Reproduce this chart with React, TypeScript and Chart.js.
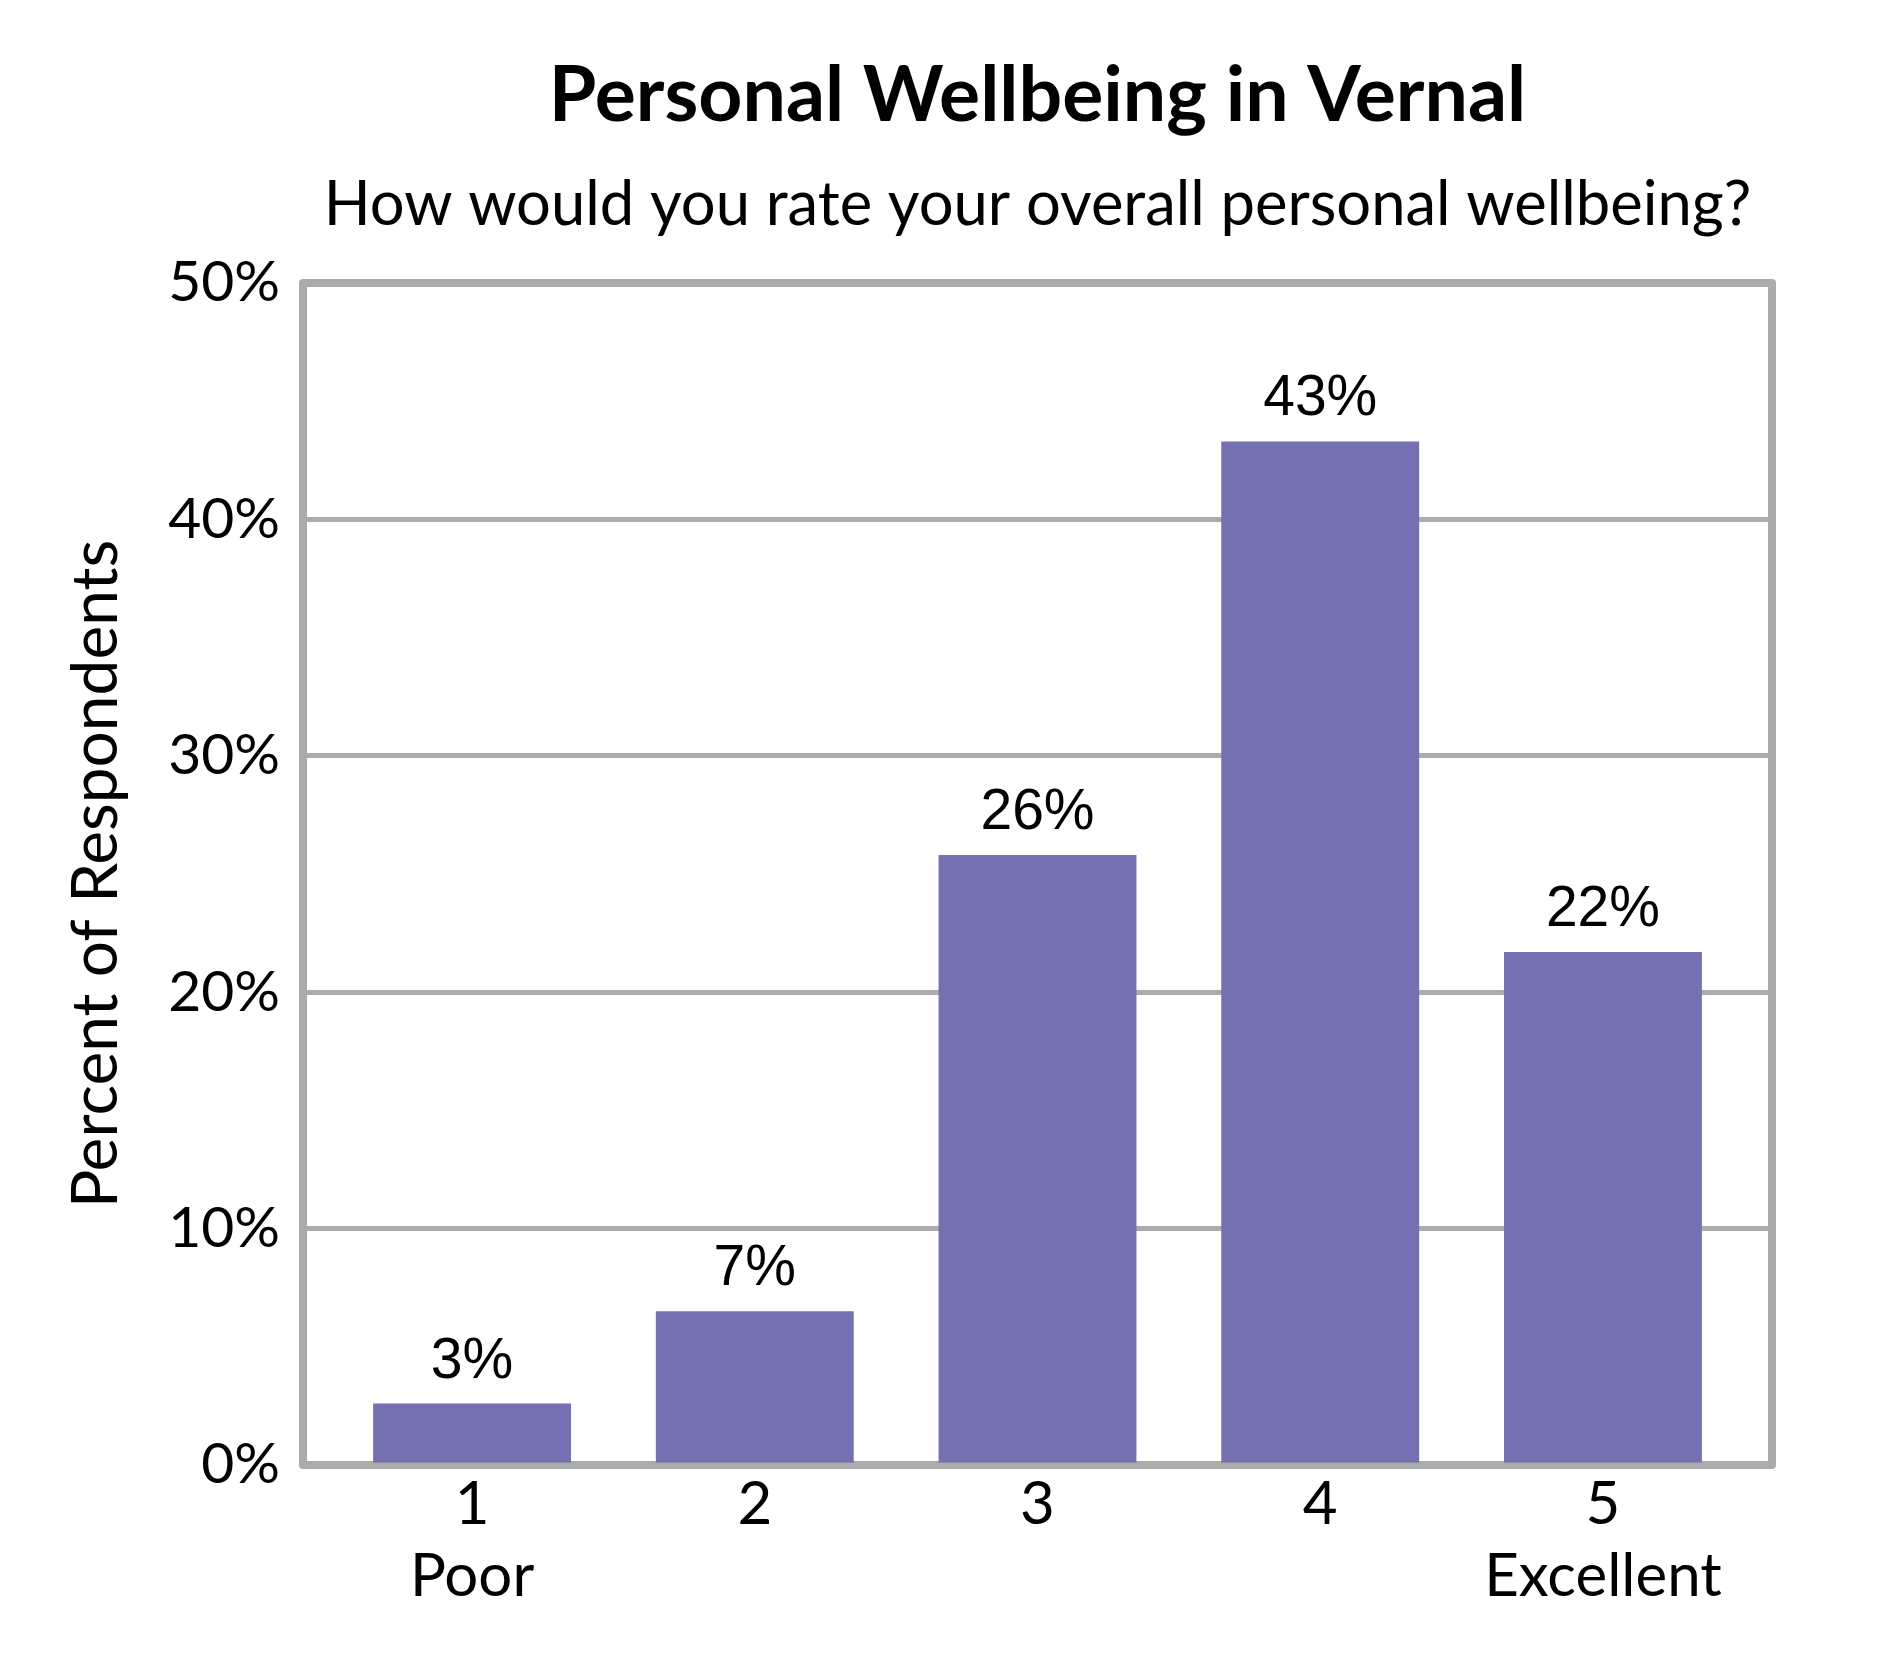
import React, { useEffect, useRef } from "react";
import { Chart, registerables } from "chart.js";

Chart.register(...registerables);

const TITLE = "Personal Wellbeing in Vernal";
const SUBTITLE = "How would you rate your overall personal wellbeing?";
const Y_TITLE = "Percent of Respondents";

const ratings = [1, 2, 3, 4, 5];
const ratingNames = ["Poor", "", "", "", "Excellent"];
const percents = [2.6, 6.5, 25.8, 43.3, 21.7];
const yTicks = [0, 10, 20, 30, 40, 50];

const BAR_COLOR = "#7571B0";
const LINE_COLOR = "#ABABAB";
const SANS = "Lato, 'Open Sans', sans-serif";

const framePlugin = {
  id: "frame",
  beforeDatasetsDraw(chart: any) {
    const { ctx, chartArea } = chart;
    ctx.save();
    ctx.strokeStyle = LINE_COLOR;
    ctx.lineWidth = 8;
    ctx.lineJoin = "round";
    ctx.strokeRect(
      chartArea.left,
      chartArea.top,
      chartArea.right - chartArea.left,
      chartArea.bottom - chartArea.top
    );
    ctx.restore();
  },
};

const valueLabelPlugin = {
  id: "valueLabels",
  afterDatasetsDraw(chart: any) {
    const { ctx } = chart;
    const meta = chart.getDatasetMeta(0);
    ctx.save();
    ctx.fillStyle = "#000000";
    ctx.font = "57px 'Liberation Sans', Arial, sans-serif";
    ctx.textAlign = "center";
    ctx.textBaseline = "alphabetic";
    meta.data.forEach((bar: any, i: number) => {
      ctx.fillText(Math.round(percents[i]) + "%", bar.x, bar.y - 26);
    });
    ctx.restore();
  },
};

export default function App() {
  const canvasRef = useRef<HTMLCanvasElement | null>(null);

  useEffect(() => {
    document.body.style.margin = "0";
    const canvas = canvasRef.current;
    if (!canvas) return;
    const chart = new Chart(canvas, {
      type: "bar",
      data: {
        datasets: [
          {
            data: ratings.map((r, i) => ({ x: r, y: percents[i] })),
            backgroundColor: BAR_COLOR,
            borderWidth: 0,
            barPercentage: 0.7,
            categoryPercentage: 1.0,
          },
        ],
      },
      options: {
        responsive: false,
        devicePixelRatio: 1,
        animation: false,
        layout: { padding: { left: 0, right: 118, top: 0, bottom: 0 } },
        plugins: {
          legend: { display: false },
          tooltip: { enabled: false },
          title: {
            display: true,
            text: TITLE,
            fullSize: false,
            color: "#000000",
            font: { family: SANS, size: 77, weight: "bold", lineHeight: 1 },
            padding: { top: 58, bottom: 0 },
          },
          subtitle: {
            display: true,
            text: SUBTITLE,
            fullSize: false,
            color: "#000000",
            font: { family: SANS, size: 61.5, weight: "normal", lineHeight: 1 },
            padding: { top: 38.95, bottom: 47.55 },
          },
        },
        scales: {
          x: {
            type: "linear",
            offset: false,
            min: 0.402,
            max: 5.598,
            afterBuildTicks: (axis: any) => {
              axis.ticks = ratings.map((r) => ({ value: r }));
            },
            afterFit: (axis: any) => {
              axis.height = 215;
            },
            grid: { display: false, drawTicks: false, offset: false },
            border: { display: false },
            ticks: {
              autoSkip: false,
              maxRotation: 0,
              minRotation: 0,
              padding: 4,
              color: "#000000",
              font: { family: SANS, size: 60, lineHeight: 72 / 60 },
              callback: (value: any) => {
                const idx = ratings.indexOf(Number(value));
                if (idx < 0) return "";
                return [String(ratings[idx]), ratingNames[idx]];
              },
            },
          },
          y: {
            min: yTicks[0],
            max: yTicks[yTicks.length - 1],
            afterBuildTicks: (axis: any) => {
              axis.ticks = yTicks.map((v) => ({ value: v }));
            },
            afterFit: (axis: any) => {
              axis.width = 303;
            },
            grid: {
              color: LINE_COLOR,
              lineWidth: 5,
              drawTicks: false,
            },
            border: { display: false },
            ticks: {
              padding: 23,
              color: "#000000",
              font: { family: SANS, size: 57, lineHeight: 1.2 },
              callback: (value: any) => value + "%",
            },
            title: {
              display: true,
              text: Y_TITLE,
              color: "#000000",
              font: { family: SANS, size: 64, lineHeight: 1 },
              padding: { top: 64.7, bottom: 0 },
            },
          },
        },
      },
      plugins: [framePlugin, valueLabelPlugin],
    } as any);
    if ((document as any).fonts && (document as any).fonts.ready) {
      (document as any).fonts.ready.then(() => {
        try {
          chart.update();
        } catch (e) {}
      });
    }
    return () => {
      chart.destroy();
    };
  }, []);

  return (
    <div style={{ width: 1890, height: 1680, background: "#ffffff" }}>
      <canvas
        ref={canvasRef}
        width={1890}
        height={1680}
        style={{ display: "block", width: 1890, height: 1680 }}
      />
    </div>
  );
}
